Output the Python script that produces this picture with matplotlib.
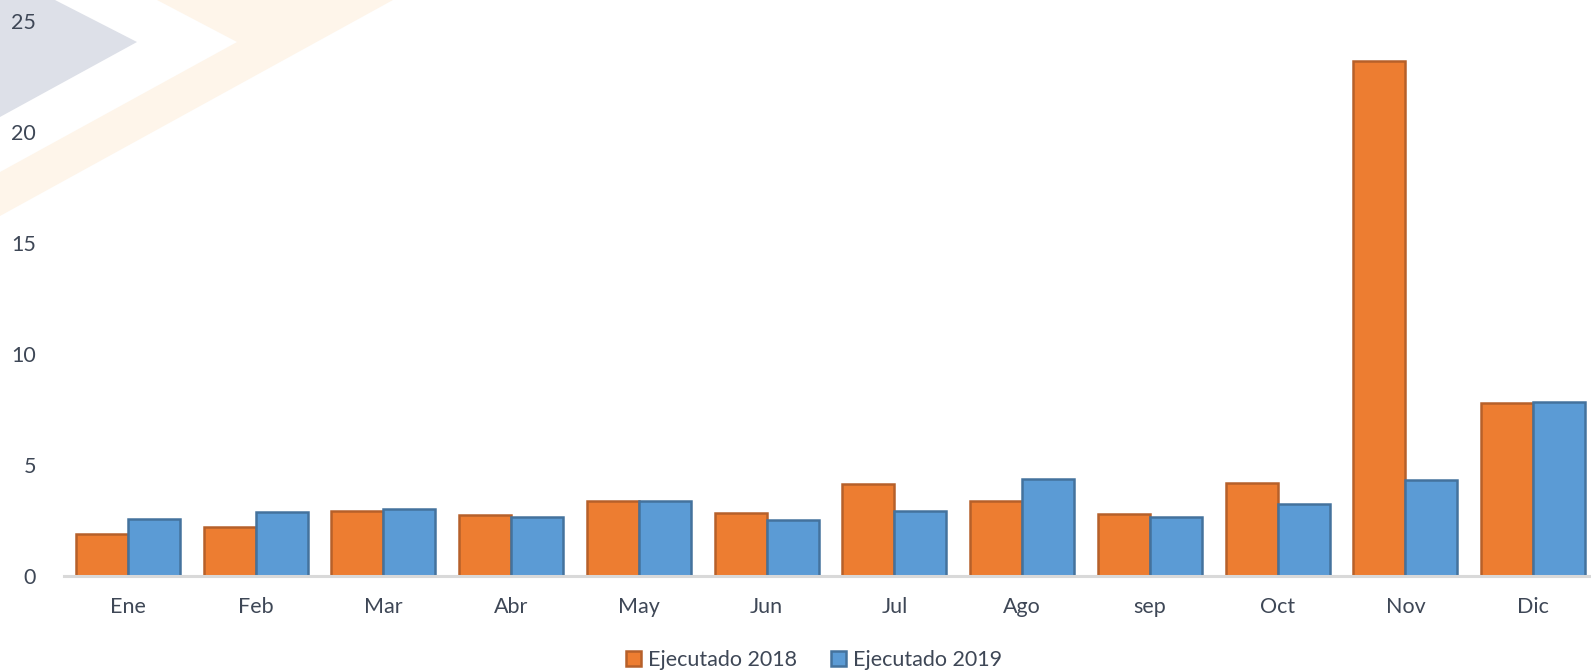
import numpy as np
import matplotlib.pyplot as plt
import matplotlib.patches as patches

# Datos mensuales
meses = ["Ene", "Feb", "Mar", "Abr", "May", "Jun", "Jul", "Ago", "sep", "Oct", "Nov", "Dic"]
ejecutado_2018 = [1.88, 2.21, 2.93, 2.73, 3.36, 2.84, 4.12, 3.36, 2.78, 4.18, 23.2, 7.77]
ejecutado_2019 = [2.56, 2.86, 2.99, 2.66, 3.36, 2.49, 2.91, 4.34, 2.66, 3.23, 4.31, 7.84]
ticks_y = [0, 5, 10, 15, 20, 25]

naranja, naranja_borde = "#ed7d31", "#b6602a"
azul, azul_borde = "#5b9bd5", "#44729d"
texto = "#3e4756"

plt.rcParams['font.family'] = ['Lato', 'DejaVu Sans']

W, H = 1591, 671
fig = plt.figure(figsize=(W / 100, H / 100), dpi=100)

# Marca de agua de fondo (esquina superior izquierda)
fondo = fig.add_axes([0, 0, 1, 1])
fondo.set_xlim(0, W)
fondo.set_ylim(H, 0)
fondo.axis("off")
fondo.add_patch(patches.Polygon([(0, 0), (55, 0), (137, 42), (0, 117)],
                                closed=True, fc="#dde0e8", ec="none"))
fondo.add_patch(patches.Polygon([(157, 0), (393, 0), (0, 216), (0, 172), (237, 42)],
                                closed=True, fc="#fef5ea", ec="none"))

# Ejes principales
x0, x1 = 64, 1591
ax = fig.add_axes([x0 / W, 1 - 575.7 / H, (x1 - x0) / W, (575.7 - 20.7) / H])
ax.patch.set_alpha(0)

x = np.arange(len(meses))
ancho = 0.408
ax.bar(x - ancho / 2, ejecutado_2018, ancho, color=naranja, edgecolor=naranja_borde,
       linewidth=1.8, label="Ejecutado 2018", zorder=3)
ax.bar(x + ancho / 2, ejecutado_2019, ancho, color=azul, edgecolor=azul_borde,
       linewidth=1.8, label="Ejecutado 2019", zorder=3)

ax.set_xlim(-0.5, 11.5 - 6 / 127.7)
ax.set_ylim(0, 25)
ax.set_yticks(ticks_y)
ax.set_xticks(x)
ax.set_xticklabels(meses)

for lado in ["top", "right", "left"]:
    ax.spines[lado].set_visible(False)
ax.spines["bottom"].set_color("#d9d9d9")
ax.spines["bottom"].set_linewidth(2.2)
ax.spines["bottom"].set_zorder(4)

ax.tick_params(axis="both", length=0, labelsize=15.5, colors=texto)
ax.tick_params(axis="y", pad=20)
ax.tick_params(axis="x", pad=15)

fig.legend(loc="center", bbox_to_anchor=(814 / W, 1 - 660 / H), ncol=2, frameon=False,
           fontsize=15.5, labelcolor=texto, handlelength=0.7, handleheight=0.7,
           handletextpad=0.3, columnspacing=1.6)

fig.savefig("out.png", dpi=100)
